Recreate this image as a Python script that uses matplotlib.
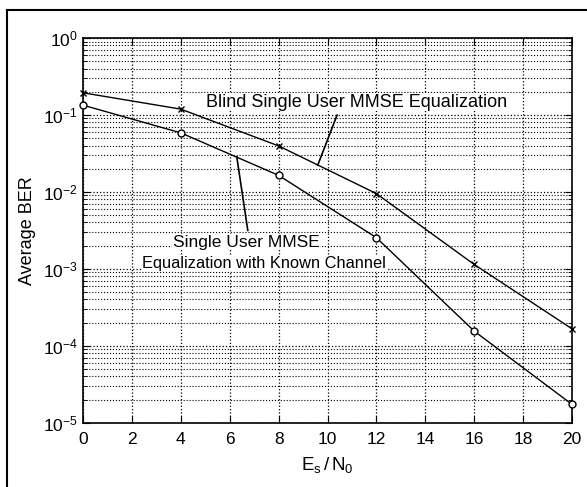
import matplotlib
matplotlib.use("Agg")
import matplotlib.pyplot as plt
from matplotlib.lines import Line2D
from matplotlib.ticker import LogLocator, NullFormatter

plt.rcParams['font.family'] = ['Liberation Sans', 'DejaVu Sans']
plt.rcParams['mathtext.fontset'] = 'custom'
plt.rcParams['mathtext.rm'] = 'Liberation Sans'
plt.rcParams['mathtext.it'] = 'Liberation Sans'

snr = [0, 4, 8, 12, 16, 20]
ber_blind = [0.194, 0.119, 0.0396, 0.0095, 0.00114, 1.66e-4]
ber_known = [0.134, 0.0585, 0.0164, 0.00254, 1.55e-4, 1.73e-5]
xticks = list(range(0, 21, 2))
label_blind = "Blind Single User MMSE Equalization"
label_known_1 = "Single User MMSE"
label_known_2 = "Equalization with Known Channel"

W, H = 587, 487
fig = plt.figure(figsize=(W / 100, H / 100), dpi=100)
ax = fig.add_axes([83 / W, 1 - 422.7 / H, (572 - 83) / W, (422.7 - 38) / H])

ax.set_yscale('log')
ax.set_xlim(0, 20)
ax.set_ylim(1e-5, 1)
ax.set_xticks(xticks)
ax.yaxis.set_major_locator(LogLocator(base=10, numticks=10))
ax.yaxis.set_minor_locator(LogLocator(base=10, subs=range(2, 10), numticks=20))
ax.yaxis.set_minor_formatter(NullFormatter())

ax.grid(True, which='major', axis='both', linestyle=':', color='black', linewidth=0.9)
ax.grid(True, which='minor', axis='y', linestyle=':', color='black', linewidth=0.8)
ax.set_axisbelow(True)

ax.plot(snr, ber_blind, color='black', linewidth=1.0, marker='x', markersize=4,
        markeredgewidth=1.0, clip_on=False, zorder=3)
ax.plot(snr, ber_known, color='black', linewidth=1.0, marker='o', markersize=5,
        markerfacecolor='white', markeredgewidth=1.0, clip_on=False, zorder=3)

ax.tick_params(which='both', direction='in', top=True, right=True, labelsize=12.5)
ax.tick_params(axis='x', which='major', pad=7)
ax.tick_params(which='major', length=5)
ax.tick_params(which='minor', length=3)
for s in ax.spines.values():
    s.set_linewidth(1.2)

# annotations
ax.text(11.2, 10 ** (-(102 - 38) / 76.8), label_blind, ha='center', va='center',
        fontsize=13, zorder=4,
        bbox=dict(facecolor='white', edgecolor='none', pad=0.5))
ax.plot([10.39, 9.6], [0.0994, 0.0222], color='black', linewidth=1.2, zorder=4)

ax.text(6.67, 10 ** (-(241.7 - 38) / 76.8), label_known_1, ha='center', va='center',
        fontsize=12.5, zorder=4,
        bbox=dict(facecolor='white', edgecolor='none', pad=0.5))
ax.text(7.42, 10 ** (-(262.7 - 38) / 76.8), label_known_2, ha='center', va='center',
        fontsize=11.8, zorder=4,
        bbox=dict(facecolor='white', edgecolor='none', pad=0.5))
ax.plot([6.74, 6.29], [0.00316, 0.0285], color='black', linewidth=1.2, zorder=4)

ax.set_ylabel('Average BER', fontsize=13)
ax.set_xlabel(r'$\mathregular{E_s\,/\,N_0}$', fontsize=13.5)
ax.yaxis.set_label_coords((27 - 83) / (572 - 83), 0.5)
ax.xaxis.set_label_coords(0.5, -(465 - 422.7) / (422.7 - 38))
ax.xaxis.label.set_va('center')
ax.yaxis.label.set_va('center')

# figure border lines
fx = 7 / W
fy = 1 - 10 / H
fig.add_artist(Line2D([fx, fx], [0, fy], transform=fig.transFigure, color='black', linewidth=1.5))
fig.add_artist(Line2D([fx, 1], [fy, fy], transform=fig.transFigure, color='black', linewidth=1.5))

fig.savefig('out.png', dpi=100)
